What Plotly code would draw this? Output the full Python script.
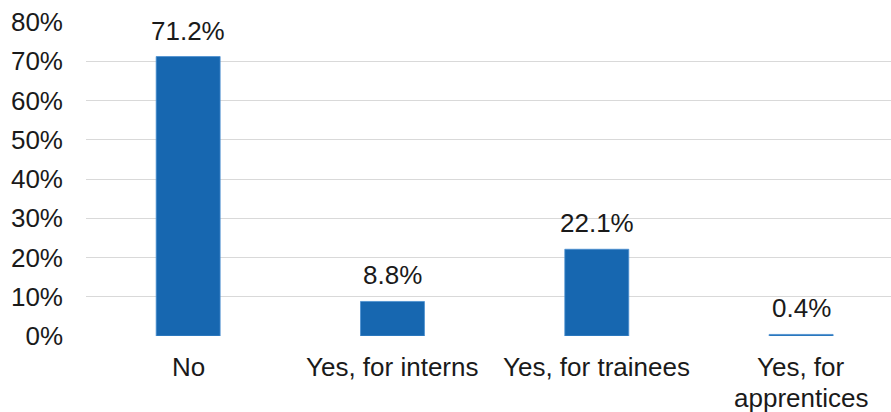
import plotly.graph_objects as go

# Survey responses: share of respondents per answer
categories = ["No", "Yes, for interns", "Yes, for trainees", "Yes, for apprentices"]
category_lines = [["No"], ["Yes, for interns"], ["Yes, for trainees"], ["Yes, for", "apprentices"]]
shares = [71.2, 8.8, 22.1, 0.4]
y_ticks = [0, 10, 20, 30, 40, 50, 60, 70, 80]

FONT = "Liberation Sans, Arial, sans-serif"
BAR_BLUE = "#1767b0"
TEXT = "#1a1a1a"
LINE_STEP = 31  # px between wrapped label lines

fig = go.Figure()
fig.add_trace(go.Bar(
    x=list(range(len(categories))),
    y=shares,
    width=0.313,
    marker=dict(color=BAR_BLUE, line=dict(color="#4a8fd0", width=0.8)),
    hoverinfo="skip",
))

# value labels above each bar
for i, v in enumerate(shares):
    fig.add_annotation(
        x=i, y=v, text=f"{v:.1f}%", showarrow=False,
        yanchor="bottom", yshift=9,
        font=dict(family=FONT, size=26, color=TEXT),
    )

# category labels under the axis, wrapped with tight line spacing
for i, lines in enumerate(category_lines):
    for k, line in enumerate(lines):
        fig.add_annotation(
            x=i, xref="x", y=0, yref="paper", text=line, showarrow=False,
            yanchor="top", yshift=-14 - k * LINE_STEP,
            font=dict(family=FONT, size=26, color=TEXT),
        )

fig.update_layout(
    width=891, height=412,
    margin=dict(l=86, r=0, t=22, b=76),
    paper_bgcolor="white", plot_bgcolor="white",
    showlegend=False,
    font=dict(family=FONT, size=26, color=TEXT),
)
fig.update_xaxes(
    range=[-0.5, 3.44],
    showticklabels=False,
    showgrid=False, zeroline=False, showline=False,
    ticks="", automargin=False,
)
fig.update_yaxes(
    range=[0, 80],
    tickmode="array",
    tickvals=y_ticks,
    ticktext=[f"{t}%" for t in y_ticks],
    showgrid=True, gridcolor="#d9d9d9", gridwidth=1.3,
    zeroline=False, showline=False,
    ticks="", ticklabelstandoff=22, automargin=False,
    tickfont=dict(family=FONT, size=26, color=TEXT),
)

fig.write_html("out.html")
